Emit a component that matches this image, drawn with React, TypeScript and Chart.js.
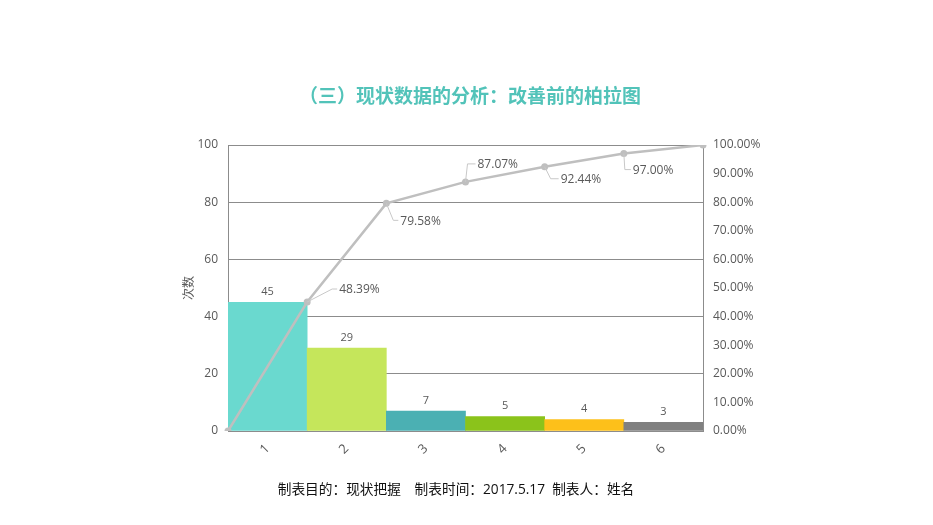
import { useEffect, useRef } from "react";
import { Chart, registerables } from "chart.js";

Chart.register(...registerables);

const categories = ["1", "2", "3", "4", "5", "6"];
const counts = [45, 29, 7, 5, 4, 3];
const barColors = ["#6AD9CF", "#C5E65B", "#4BB0B3", "#8BC31B", "#FDC01A", "#808080"];
// cumulative share at each category boundary (0 .. 6), as plotted in the picture
const boundaries = ["0", "1", "2", "3", "4", "5", "6"];
const cumulative = [0, 45.1, 79.6, 87.1, 92.4, 97.0, 100];
// the labels printed beside the points
const cumulativeLabels = ["", "48.39%", "79.58%", "87.07%", "92.44%", "97.00%", ""];

const TITLE = "（三）现状数据的分析：改善前的柏拉图";
const FOOTER = "制表目的：现状把握\u3000制表时间：2017.5.17  制表人：姓名";

const FONT = "'Open Sans', 'Noto Sans CJK SC', sans-serif";
const TICK_COLOR = "#595959";

// callout leader geometry per boundary point: [dx, dy, horizontal run]
const callouts: Record<number, [number, number, number]> = {
  1: [25, -13, 5],
  2: [7, 17, 5],
  3: [2, -18, 8],
  4: [6, 12, 8],
  5: [1, 16, 6],
};

const labelPlugin = {
  id: "pointLabels",
  afterDatasetsDraw(chart: Chart) {
    const ctx = chart.ctx;
    ctx.save();
    ctx.fillStyle = TICK_COLOR;

    const bars = chart.getDatasetMeta(0);
    ctx.font = `11px ${FONT}`;
    ctx.textAlign = "center";
    ctx.textBaseline = "bottom";
    bars.data.forEach((el: any, i: number) => {
      ctx.fillText(String(counts[i]), el.x, el.y - 5);
    });

    const line = chart.getDatasetMeta(1);
    ctx.font = `12px ${FONT}`;
    ctx.textAlign = "left";
    ctx.textBaseline = "middle";
    ctx.strokeStyle = "#C8C8C8";
    ctx.lineWidth = 1;
    line.data.forEach((el: any, i: number) => {
      const c = callouts[i];
      if (!c || !cumulativeLabels[i]) return;
      const [dx, dy, run] = c;
      const x1 = el.x + dx;
      const y1 = el.y + dy;
      ctx.beginPath();
      ctx.moveTo(el.x, el.y);
      ctx.lineTo(x1, y1);
      ctx.lineTo(x1 + run, y1);
      ctx.stroke();
      ctx.fillText(cumulativeLabels[i], x1 + run + 2, y1 + 1);
    });
    ctx.restore();
  },
};

function ParetoChart() {
  const chartRef = useRef<HTMLCanvasElement>(null);
  const chartInstance = useRef<Chart | null>(null);

  useEffect(() => {
    if (!chartRef.current) return;
    if (chartInstance.current) {
      chartInstance.current.destroy();
    }
    const ctx = chartRef.current.getContext("2d");
    if (!ctx) return;

    chartInstance.current = new Chart(ctx, {
      type: "bar",
      data: {
        labels: categories,
        datasets: [
          {
            type: "bar",
            label: "次数",
            data: counts,
            backgroundColor: barColors,
            borderWidth: 0,
            barPercentage: 1,
            categoryPercentage: 1,
            grouped: false,
            xAxisID: "x",
            yAxisID: "y",
            order: 2,
          },
          {
            type: "line",
            label: "累计百分比",
            data: cumulative,
            borderColor: "#BFBFBF",
            backgroundColor: "#BFBFBF",
            borderWidth: 2.5,
            pointRadius: 3.5,
            pointBackgroundColor: "#BFBFBF",
            pointBorderWidth: 0,
            tension: 0,
            xAxisID: "x2",
            yAxisID: "y1",
            order: 1,
          } as any,
        ],
      },
      options: {
        animation: false,
        responsive: false,
        maintainAspectRatio: false,
        layout: { padding: { left: 170, right: 150, top: 145, bottom: 40 } },
        plugins: {
          legend: { display: false },
          tooltip: { enabled: false },
        },
        scales: {
          x: {
            type: "category",
            offset: true,
            grid: { display: false, drawTicks: false },
            border: { display: false },
            ticks: {
              color: TICK_COLOR,
              font: { family: FONT, size: 13 },
              minRotation: 45,
              maxRotation: 45,
              padding: 10,
            },
            afterFit(scale: any) {
              scale.height = 54;
            },
          },
          x2: {
            type: "category",
            labels: boundaries,
            offset: false,
            display: false,
          },
          y: {
            position: "left",
            min: 0,
            max: 100,
            ticks: {
              stepSize: 20,
              color: TICK_COLOR,
              font: { family: FONT, size: 12 },
              padding: 10,
            },
            grid: { color: "#8C8C8C", lineWidth: 1, drawTicks: false },
            border: { display: true, color: "#8C8C8C" },
            title: {
              display: true,
              text: "次数",
              color: TICK_COLOR,
              font: { family: FONT, size: 12 },
              padding: { top: 12, bottom: 0 },
            },
            afterFit(scale: any) {
              scale.width = 58;
            },
          },
          y1: {
            position: "right",
            min: 0,
            max: 100,
            ticks: {
              stepSize: 10,
              color: TICK_COLOR,
              font: { family: FONT, size: 12 },
              padding: 10,
              callback: (v: any) => Number(v).toFixed(2) + "%",
            },
            grid: { display: false, drawTicks: false },
            border: { display: true, color: "#8C8C8C" },
            afterFit(scale: any) {
              scale.width = 80;
            },
          },
        },
      },
      plugins: [labelPlugin],
    });

    return () => {
      if (chartInstance.current) {
        chartInstance.current.destroy();
        chartInstance.current = null;
      }
    };
  }, []);

  return <canvas ref={chartRef} width={933} height={525} style={{ display: "block" }} />;
}

export default function App() {
  return (
    <div
      style={{
        position: "absolute",
        left: 0,
        top: 0,
        width: 933,
        height: 525,
        background: "#FFFFFF",
        overflow: "hidden",
      }}
    >
      <ParetoChart />
      <div
        style={{
          position: "absolute",
          left: 0,
          width: 940,
          top: 81,
          textAlign: "center",
          fontFamily: "'Noto Sans CJK SC', sans-serif",
          fontWeight: 700,
          fontSize: 19,
          lineHeight: "28px",
          color: "#52C3B9",
        }}
      >
        {TITLE}
      </div>
      <div
        style={{
          position: "absolute",
          left: 0,
          width: 912,
          top: 478,
          textAlign: "center",
          fontFamily: "'Open Sans', 'Noto Sans CJK SC', sans-serif",
          fontSize: 13.7,
          lineHeight: "22px",
          color: "#111111",
          whiteSpace: "pre",
        }}
      >
        {FOOTER}
      </div>
    </div>
  );
}
